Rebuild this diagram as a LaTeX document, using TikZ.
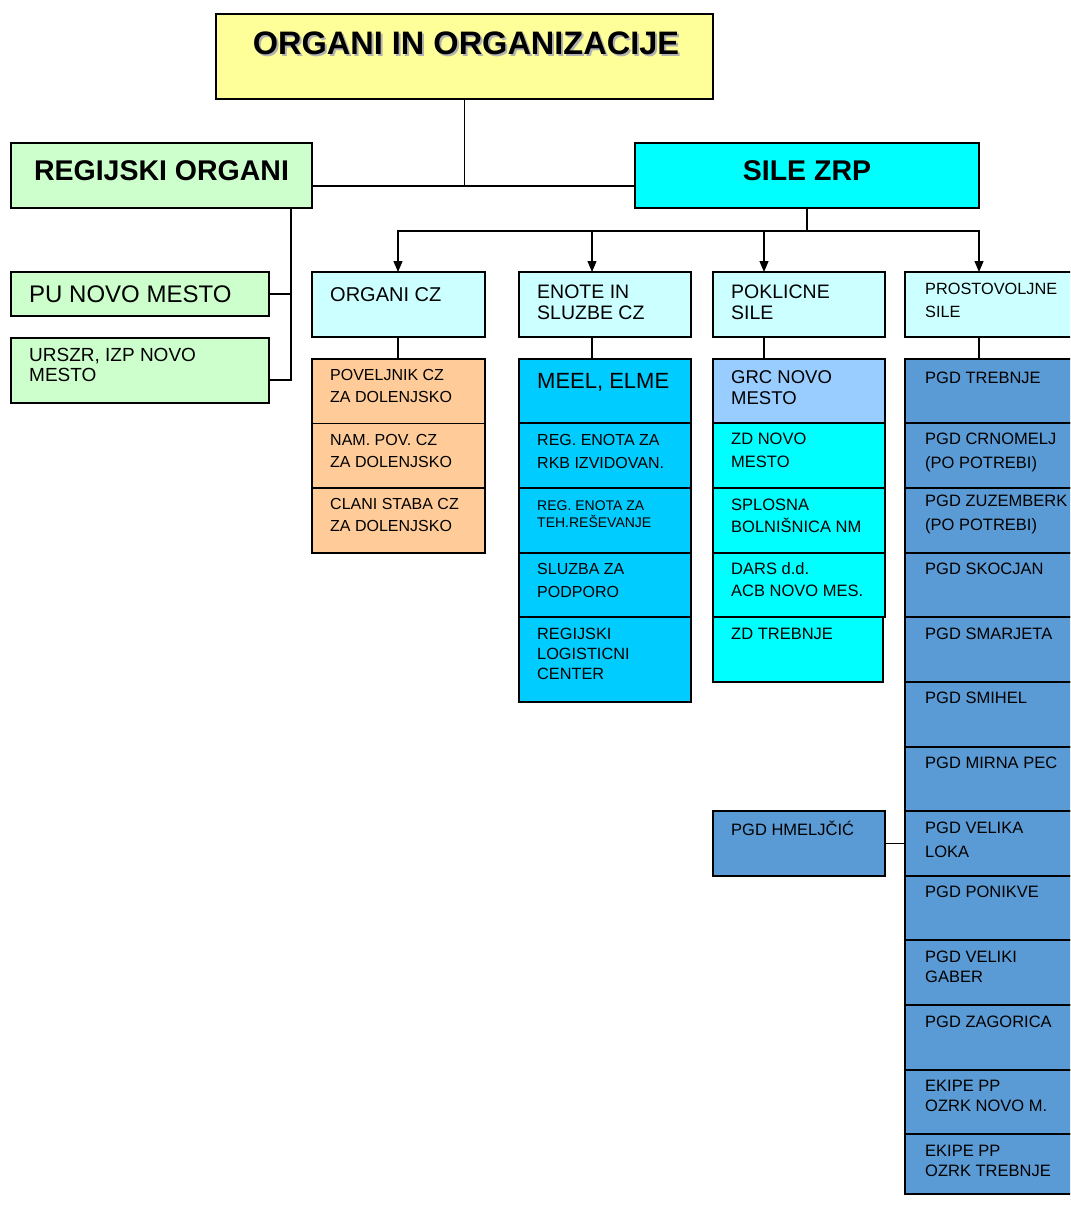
\documentclass[tikz,border=0pt]{standalone}
\usepackage{fontspec}
\setmainfont{Liberation Sans}
\usetikzlibrary{arrows.meta}

\definecolor{yelbox}{HTML}{FFFF99}
\definecolor{grnbox}{HTML}{CCFFCC}
\definecolor{cyanbox}{HTML}{00FFFF}
\definecolor{hdrbox}{HTML}{CCFFFF}
\definecolor{orgbox}{HTML}{FFCC99}
\definecolor{czbox}{HTML}{00CCFF}
\definecolor{grcbox}{HTML}{99CCFF}
\definecolor{pgdbox}{HTML}{5B9BD5}

\newcommand\setfs[2]{\fontsize{#1}{#2}\selectfont}
\newcommand\shadowtxt[1]{{\color{black!30}\rlap{\kern2pt\raisebox{-2pt}{#1}}}#1}

\begin{document}
\begin{tikzpicture}[x=1pt,y=-1pt,
  box/.style={draw, line width=1.5pt, anchor=north west, inner sep=0pt, outer sep=0pt},
  lab/.style={anchor=north west, inner sep=0pt, align=left, xshift=18pt, yshift=-#1},
  lab/.default=11pt,
  ctr/.style={anchor=north, inner sep=0pt, yshift=-#1},
  con/.style={line width=1.2pt},
  cone/.style={box, fill=orgbox, minimum width=173pt},
  ctwo/.style={box, fill=czbox, minimum width=172pt},
  cthree/.style={box, fill=cyanbox, minimum width=172pt},
  cfour/.style={box, fill=pgdbox, minimum width=180pt},
  lone/.style={lab=#1, font=\setfs{16}{22.3}},
  ltwo/.style={lab=#1, font=\setfs{16}{23}},
  lthree/.style={lab=#1, font=\setfs{16.5}{22.7}},
  lfour/.style={lab=#1, xshift=2pt, font=\setfs{16.5}{23.3}}]

\useasboundingbox (0,0) rectangle (1070,1206);
\clip (0,0) rectangle (1070,1206);

\node[box, fill=yelbox, minimum width=497pt, minimum height=85pt,
  label={[ctr=18pt, xshift=1.5pt, font=\setfs{32.5}{36}\bfseries]north:{\shadowtxt{ORGANI IN ORGANIZACIJE}}}] (title) at (216,14) {};

\node[box, fill=grnbox, minimum width=301pt, minimum height=65pt,
  label={[ctr=17pt, font=\setfs{28.5}{32}\bfseries]north:{REGIJSKI ORGANI}}] (reg) at (11,143) {};
\node[box, fill=cyanbox, minimum width=344pt, minimum height=65pt,
  label={[ctr=17pt, font=\setfs{28.5}{32}\bfseries]north:{SILE ZRP}}] (sile) at (635,143) {};

\node[box, fill=grnbox, minimum width=258pt, minimum height=44pt,
  label={[lab=14pt, font=\setfs{24}{26}]north west:{PU NOVO MESTO}}] (pu) at (11,272) {};
\node[box, fill=grnbox, minimum width=258pt, minimum height=65pt,
  label={[lab=10pt, font=\setfs{19}{20}]north west:{URSZR, IZP NOVO\\MESTO}}] (urs) at (11,338) {};

\node[box, fill=hdrbox, minimum width=173pt, minimum height=65pt,
  label={[lab=15pt, font=\setfs{20}{21}]north west:{ORGANI CZ}}] (ocz) at (312,272) {};
\node[box, fill=hdrbox, minimum width=172pt, minimum height=65pt,
  label={[lab=13pt, font=\setfs{19.5}{21}]north west:{ENOTE IN\\SLUZBE CZ}}] (enote) at (519,272) {};
\node[box, fill=hdrbox, minimum width=172pt, minimum height=65pt,
  label={[lab=13pt, font=\setfs{19.5}{21}]north west:{POKLICNE\\SILE}}] (pokl) at (713,272) {};
\node[box, fill=hdrbox, minimum width=180pt, minimum height=65pt,
  label={[lab=11.3pt, xshift=2pt, font=\setfs{16.3}{22.7}]north west:{PROSTOVOLJNE\\SILE}}] (prost) at (905,272) {};

\node[cone, minimum height=64.5pt, label={[lone=10.3pt]north west:{POVELJNIK CZ\\ZA DOLENJSKO}}] (pov) at (312,359) {};
\node[cone, minimum height=64.5pt, label={[lone=10.3pt]north west:{NAM. POV. CZ\\ZA DOLENJSKO}}] (nam) at (312,423.5) {};
\node[cone, minimum height=65pt, label={[lone=10.3pt]north west:{CLANI STABA CZ\\ZA DOLENJSKO}}] (clan) at (312,488) {};

\node[ctwo, minimum height=64pt, label={[ltwo=14pt, font=\setfs{22}{24}]north west:{MEEL, ELME}}] (meel) at (519,359) {};
\node[ctwo, minimum height=65pt, label={[ltwo=11pt]north west:{REG. ENOTA ZA\\RKB IZVIDOVAN.}}] (rkb) at (519,423) {};
\node[ctwo, minimum height=65pt, label={[ltwo=13pt, font=\setfs{14}{17}]north west:{REG. ENOTA ZA\\TEH.REŠEVANJE}}] (teh) at (519,488) {};
\node[ctwo, minimum height=64pt, label={[ltwo=10.3pt, font=\setfs{16}{22.7}]north west:{SLUZBA ZA\\PODPORO}}] (slu) at (519,553) {};
\node[ctwo, minimum height=85pt, label={[ltwo=11.3pt, font=\setfs{16.3}{20}]north west:{REGIJSKI\\LOGISTICNI\\CENTER}}] (rlc) at (519,617) {};

\node[cthree, fill=grcbox, minimum height=64pt, label={[lthree=11.7pt, font=\setfs{18.5}{21}]north west:{GRC NOVO\\MESTO}}] (grc) at (713,359) {};
\node[cthree, minimum height=65pt, label={[lthree=10pt]north west:{ZD NOVO\\MESTO}}] (zdnm) at (713,423) {};
\node[cthree, minimum height=65pt, label={[lthree=10.3pt]north west:{SPLOSNA\\BOLNIŠNICA NM}}] (spl) at (713,488) {};
\node[cthree, minimum height=64pt, label={[lthree=9pt]north west:{DARS d.d.\\ACB NOVO MES.}}] (dars) at (713,553) {};
\node[cthree, minimum width=170pt, minimum height=65pt, label={[lthree=11.3pt]north west:{ZD TREBNJE}}] (zdt) at (713,617) {};

\node[cfour, minimum height=64pt, label={[lfour=12.7pt]north west:{PGD TREBNJE}}] (trb) at (905,359) {};
\node[cfour, minimum height=65pt, label={[lfour=10pt]north west:{PGD CRNOMELJ\\(PO POTREBI)}}] (crn) at (905,423) {};
\node[cfour, minimum height=65pt, label={[lfour=7pt]north west:{PGD ZUZEMBERK\\(PO POTREBI)}}] (zuz) at (905,488) {};
\node[cfour, minimum height=64pt, label={[lfour=9.5pt]north west:{PGD SKOCJAN}}] (sko) at (905,553) {};
\node[cfour, minimum height=65pt, label={[lfour=10.7pt]north west:{PGD SMARJETA}}] (sma) at (905,617) {};
\node[cfour, minimum height=65pt, label={[lfour=9.7pt]north west:{PGD SMIHEL}}] (smi) at (905,682) {};
\node[cfour, minimum height=64pt, label={[lfour=10pt]north west:{PGD MIRNA PEC}}] (mir) at (905,747) {};
\node[cfour, minimum height=65pt, label={[lfour=11pt]north west:{PGD VELIKA\\LOKA}}] (lok) at (905,811) {};
\node[cfour, minimum height=64pt, label={[lfour=10pt]north west:{PGD PONIKVE}}] (pon) at (905,876) {};
\node[cfour, minimum height=65pt, label={[lfour=11pt, font=\setfs{16.5}{19.5}]north west:{PGD VELIKI\\GABER}}] (gab) at (905,940) {};
\node[cfour, minimum height=65pt, label={[lfour=11pt]north west:{PGD ZAGORICA}}] (zag) at (905,1005) {};
\node[cfour, minimum height=64pt, label={[lfour=10pt, font=\setfs{16.5}{19.5}]north west:{EKIPE PP\\OZRK NOVO M.}}] (ozn) at (905,1070) {};
\node[cfour, minimum height=60pt, label={[lfour=11.3pt, font=\setfs{16.5}{19.5}]north west:{EKIPE PP\\OZRK TREBNJE}}] (ozt) at (905,1134) {};

\node[cfour, minimum width=172pt, minimum height=65pt, label={[lthree=10pt]north west:{PGD HMELJČIĆ}}] (hmel) at (713,811) {};

\coordinate (hub) at ([yshift=-10.5pt]sile.west);
\draw[con] (title.south) -- (title.south |- hub);
\draw[con] ([yshift=-10.5pt]reg.east) -- (hub);

\coordinate (rv) at ([xshift=-21pt]reg.south east);
\draw[con] (rv) |- ([yshift=-9.5pt]urs.east);
\draw[con] (pu.east) -- (pu.east -| rv);

\draw[con] (sile.south) -- ++(0,23) coordinate (bus);
\foreach \n/\dx in {ocz/86,enote/73,pokl/51,prost/74}
  \draw[con, -{Triangle[width=9pt,length=11pt]}] (bus) -| ([xshift=\dx pt]\n.north west);
\foreach \a/\b/\dx in {ocz/pov/86,enote/meel/73,pokl/grc/51,prost/trb/74}
  \draw[con] ([xshift=\dx pt]\a.south west) -- ([xshift=\dx pt]\b.north west);

\draw[con] (hmel.east) -- (lok.west);

\end{tikzpicture}
\end{document}
